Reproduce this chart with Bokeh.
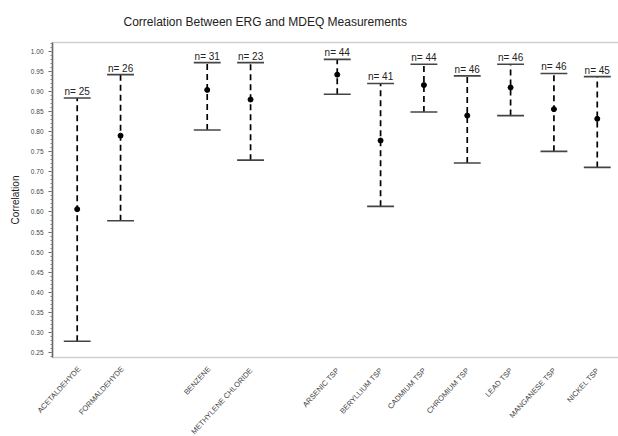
import math
from bokeh.plotting import figure
from bokeh.models import SingleIntervalTicker, BoxAnnotation, NumeralTickFormatter, ColumnDataSource
from bokeh.core.properties import value
from bokeh.embed import file_html
from bokeh.resources import INLINE

categories = ["ACETALDEHYDE", "FORMALDEHYDE", "BENZENE", "METHYLENE  CHLORIDE",
              "ARSENIC  TSP", "BERYLLIUM  TSP", "CADMIUM  TSP", "CHROMIUM  TSP",
              "LEAD  TSP", "MANGANESE  TSP", "NICKEL  TSP"]
positions = [1, 2, 4, 5, 7, 8, 9, 10, 11, 12, 13]
means = [0.607, 0.790, 0.904, 0.880, 0.942, 0.778, 0.916, 0.840, 0.910, 0.856, 0.832]
lows = [0.278, 0.578, 0.804, 0.729, 0.893, 0.614, 0.849, 0.722, 0.840, 0.751, 0.711]
highs = [0.884, 0.942, 0.972, 0.972, 0.980, 0.920, 0.968, 0.939, 0.968, 0.945, 0.937]
ns = [25, 26, 31, 23, 44, 41, 44, 46, 46, 46, 45]

# plot box (data units); the frame extends beyond it to hold the rotated labels
BOX_L, BOX_B, BOX_T = 0.43, 0.2376, 1.022
X0, X1 = -0.77, 13.49
Y0, Y1 = 0.0409, 1.027
CAP = 0.31

p = figure(width=618, height=436, output_backend="svg", toolbar_location=None,
           x_range=(X0, X1), y_range=(Y0, Y1),
           min_border_left=0, min_border_right=0, min_border_top=40, min_border_bottom=0,
           title="Correlation Between ERG and MDEQ Measurements")
p.title.text_font = "Liberation Sans"
p.title.text_font_size = "12px"
p.title.text_font_style = "normal"
p.title.text_color = "#222222"
p.title.align = "left"
p.title.offset = 123
p.title.standoff = 24

p.grid.visible = False
p.outline_line_color = None
p.background_fill_color = "white"
p.xaxis.visible = False

src = ColumnDataSource(dict(
    x=positions, mean=means, low=lows, high=highs,
    xl=[v - CAP for v in positions], xr=[v + CAP for v in positions],
    lab=[f"n= {n}" for n in ns],
    cat=categories, base=[BOX_B] * len(positions),
))

# plot box
p.add_layout(BoxAnnotation(left=BOX_L, right=X1 + 1, bottom=BOX_B, top=BOX_T,
                           fill_color=None, line_color="#666666", line_width=1.5))

p.segment(x0="x", y0="low", x1="x", y1="high", source=src,
          line_color="black", line_width=1.7, line_dash="6 4")
p.segment(x0="xl", y0="low", x1="xr", y1="low", source=src,
          line_color="#444444", line_width=1.6)
p.segment(x0="xl", y0="high", x1="xr", y1="high", source=src,
          line_color="#444444", line_width=1.6)
p.scatter(x="x", y="mean", source=src, size=5, color="black")
p.text(x="x", y="high", text="lab", source=src, text_align="center",
       text_baseline="bottom", y_offset=-1, text_font_size="10px",
       text_font=value("Liberation Sans"), text_color="#222222")

# category labels below the box, rotated
p.text(x="x", y="base", text="cat", source=src, angle=0.83,
       text_align="right", text_baseline="middle", x_offset=2, y_offset=10,
       text_font=value("Liberation Sans"), text_font_size="7.5px",
       text_color="#444444")

# y axis, pinned to the left side of the box
yax = p.yaxis[0]
yax.fixed_location = BOX_L
yax.bounds = (BOX_B, BOX_T)
yax.ticker = SingleIntervalTicker(interval=0.05, num_minor_ticks=5)
yax.formatter = NumeralTickFormatter(format="0.00")
yax.axis_label = "Correlation"
yax.axis_label_text_font = "Liberation Sans"
yax.axis_label_text_font_size = "10px"
yax.axis_label_text_font_style = "normal"
yax.axis_label_text_color = "#222222"
yax.axis_label_standoff = 7
yax.major_label_text_font = "Liberation Sans"
yax.major_label_text_font_size = "6.5px"
yax.major_label_text_color = "#444444"
yax.major_tick_out = 4
yax.major_tick_in = 0
yax.minor_tick_out = 2
yax.minor_tick_in = 0
yax.axis_line_color = "#666666"
yax.axis_line_width = 1.5
yax.major_tick_line_color = "#666666"
yax.minor_tick_line_color = "#888888"

open("out.html", "w").write(file_html(p, INLINE))
